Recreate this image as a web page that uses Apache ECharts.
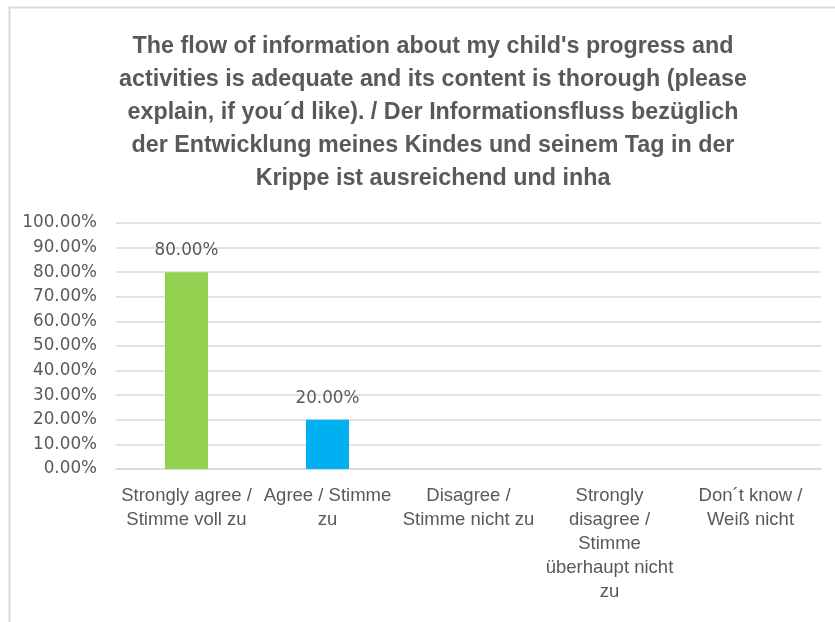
<!DOCTYPE html>
<html>
<head>
<meta charset="utf-8">
<script src="https://cdn.jsdelivr.net/npm/echarts@6/dist/echarts.min.js"></script>
<style>html,body{margin:0;padding:0;background:#fff}#c{width:835px;height:622px}</style>
</head>
<body>
<div id="c"></div>
<script>
const titleText = "The flow of information about my child's progress and\nactivities is adequate and its content is thorough (please\nexplain, if you\u00b4d like). / Der Informationsfluss bez\u00fcglich\nder Entwicklung meines Kindes und seinem Tag in der\nKrippe ist ausreichend und inha";
const categories = [
  "Strongly agree /\nStimme voll zu",
  "Agree / Stimme\nzu",
  "Disagree /\nStimme nicht zu",
  "Strongly\ndisagree /\nStimme\n\u00fcberhaupt nicht\nzu",
  "Don\u00b4t know /\nWei\u00df nicht"
];
const values = [80, 20, 0, 0, 0];
const barColors = ["#92D050", "#00B0F0", "#92D050", "#92D050", "#92D050"];
const yMin = 0, yMax = 100, yStep = 10;

const chart = echarts.init(document.getElementById('c'), null, {renderer: 'canvas'});
const textColor = '#595959';
chart.setOption({
  animation: false,
  graphic: [{
    type: 'rect', left: 7, top: 5, silent: true,
    shape: {x: 0, y: 0, width: 900, height: 700},
    style: {fill: 'none', stroke: '#D9D9D9', lineWidth: 2}
  }],
  title: {
    text: titleText,
    left: 428, top: 25, textAlign: 'center',
    textStyle: {fontFamily: 'Liberation Sans', fontWeight: 'bold', fontSize: 23.3, color: textColor, lineHeight: 33}
  },
  grid: {left: 116, right: 14, top: 223, bottom: 153, containLabel: false},
  xAxis: {
    type: 'category', data: categories,
    axisTick: {show: false},
    axisLine: {lineStyle: {color: '#D9D9D9', width: 1.5}},
    axisLabel: {interval: 0, color: textColor, fontFamily: 'Liberation Sans', fontSize: 18.5, lineHeight: 24, margin: 15}
  },
  yAxis: {
    type: 'value', min: yMin, max: yMax, interval: yStep,
    axisLine: {show: false}, axisTick: {show: false},
    splitLine: {lineStyle: {color: '#D9D9D9', width: 1.5}},
    axisLabel: {color: textColor, fontFamily: 'DejaVu Sans', fontSize: 16.8, margin: 19,
      formatter: v => v.toFixed(2) + '%'}
  },
  series: [{
    type: 'bar',
    data: values.map((v, i) => ({value: v, itemStyle: {color: barColors[i]}})),
    barWidth: 43,
    label: {show: true, position: 'top', distance: 13, color: textColor, fontFamily: 'DejaVu Sans', fontSize: 16.8,
      formatter: p => p.value > 0 ? p.value.toFixed(2) + '%' : ''}
  }]
});
</script>
</body>
</html>
